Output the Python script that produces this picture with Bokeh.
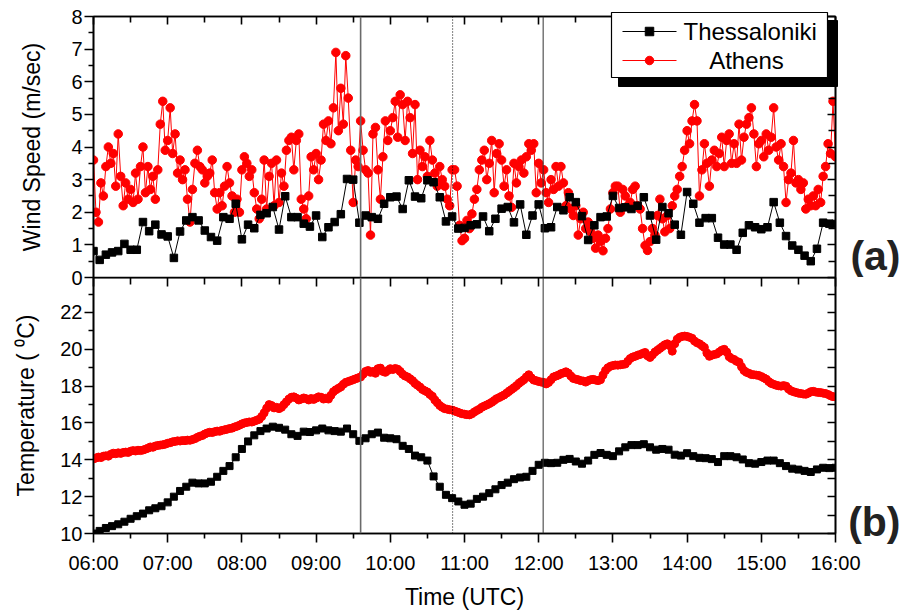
import numpy as np
from bokeh.plotting import figure
from bokeh.models import LinearAxis, FixedTicker, Span, Range1d
from bokeh.layouts import column, row
from bokeh.embed import file_html
from bokeh.resources import INLINE
from bokeh.core.properties import value

# ---------------- data ----------------
start_hour = 6.0
end_hour = 16.0
thess_step_min = 5      # Thessaloniki sampling interval (minutes)
athens_step_min = 2     # Athens sampling interval (minutes)

thess_wind = [
    0.81, 0.54, 0.70, 0.77, 0.81, 1.03, 0.85, 0.85, 1.70, 1.42, 1.62, 1.32,
    1.26, 0.60, 1.41, 1.75, 1.85, 1.75, 1.44, 1.24, 1.13, 1.85, 1.80, 2.26,
    1.17, 1.62, 1.51, 1.92, 1.97, 2.16, 1.47, 2.49, 1.85, 1.85, 1.65, 1.56,
    1.90, 1.24, 1.54, 1.70, 1.94, 3.02, 3.00, 1.68, 1.90, 1.85, 1.80, 2.26,
    2.46, 2.48, 2.10, 2.98, 2.48, 2.43, 2.98, 2.92, 2.46, 1.72, 1.87, 1.50,
    1.52, 1.60, 1.63, 1.87, 1.42, 1.80, 2.11, 2.16, 1.69, 2.24, 1.31, 1.90,
    2.24, 1.51, 1.54, 2.16, 2.06, 2.46, 2.31, 1.88, 1.15, 1.60, 1.85, 1.87,
    2.50, 2.13, 2.15, 2.10, 2.20, 2.46, 1.90, 1.16, 2.16, 1.97, 1.62, 1.31,
    2.62, 2.26, 1.68, 1.82, 1.82, 1.22, 1.01, 1.01, 0.85, 1.37, 1.60, 1.54,
    1.48, 1.54, 2.31, 1.68, 1.27, 0.98, 0.85, 0.67, 0.50, 0.88, 1.68, 1.65,
    1.64,
]

athens_wind = [
    3.6, 2.0, 1.7, 2.9, 2.5, 3.4, 4.0, 3.5, 3.8, 2.8, 4.4, 3.1, 2.2, 2.9, 2.4,
    2.7, 2.3, 3.2, 2.4, 3.4, 4.0, 2.6, 3.4, 2.7, 3.1, 2.4, 3.3, 4.7, 5.4, 3.9,
    4.2, 5.2, 3.8, 4.4, 3.2, 3.6, 3.0, 3.3, 2.4, 1.7, 2.7, 3.5, 3.9, 3.4, 3.3,
    2.9, 3.1, 3.2, 3.6, 2.6, 2.1, 2.6, 2.2, 2.8, 3.4, 2.9, 2.5, 2.0, 2.4, 2.0,
    3.3, 3.7, 3.5, 3.1, 3.3, 2.6, 2.1, 1.8, 2.4, 3.6, 2.1, 3.1, 3.5, 2.2, 3.6,
    2.3, 3.2, 2.8, 3.9, 4.2, 4.3, 3.3, 4.2, 4.4, 2.4, 2.1, 1.8, 2.5, 3.7, 3.3,
    3.8, 3.0, 3.6, 4.7, 4.2, 4.8, 4.1, 5.2, 6.9, 4.5, 5.8, 4.7, 6.8, 5.5, 3.9,
    2.3, 3.6, 3.4, 4.8, 3.9, 3.3, 3.2, 1.3, 4.4, 4.6, 3.3, 2.4, 3.7, 4.8, 4.2,
    4.5, 4.9, 5.4, 4.3, 5.6, 5.3, 4.2, 5.4, 4.9, 3.8, 5.3, 3.0, 3.9, 3.4, 3.7,
    3.1, 4.2, 3.6, 3.2, 2.8, 3.4, 3.0, 2.8, 2.4, 2.2, 3.3, 3.3, 2.8, 1.6, 1.13,
    1.2, 1.75, 1.5, 1.95, 2.4, 2.7, 3.3, 3.6, 3.9, 3.0, 3.5, 4.2, 2.6, 3.8, 4.1,
    3.6, 2.8, 3.3, 2.5, 2.15, 3.5, 2.9, 3.4, 3.6, 3.2, 3.7, 4.1, 3.9, 4.1, 2.6,
    3.5, 2.9, 3.3, 2.6, 2.3, 3.0, 2.7, 3.4, 2.8, 3.4, 2.9, 2.2, 2.6, 2.1, 1.9,
    2.2, 1.3, 1.8, 2.0, 1.5, 1.7, 1.4, 1.2, 0.9, 1.3, 1.1, 0.82, 1.2, 1.5, 2.1,
    2.6, 2.8, 2.8, 2.0, 2.7, 2.5, 2.2, 2.3, 2.7, 2.8, 2.2, 2.1, 1.5, 0.98, 0.83,
    1.1, 1.5, 1.3, 1.9, 2.4, 1.8, 1.4, 1.9, 1.5, 2.2, 2.5, 2.7, 3.1, 3.4, 3.9,
    4.5, 4.1, 4.8, 5.3, 4.8, 2.5, 3.3, 4.1, 3.5, 2.8, 3.6, 3.9, 3.4, 3.8, 4.3,
    3.4, 4.2, 4.4, 3.5, 4.1, 3.5, 4.7, 3.6, 4.3, 4.7, 4.9, 5.2, 4.4, 3.4, 4.1,
    4.2, 3.7, 4.4, 3.9, 4.3, 5.2, 4.0, 3.6, 4.1, 3.4, 2.3, 3.0, 3.2, 4.2, 2.9,
    3.0, 2.7, 2.9, 2.1, 2.4, 2.2, 2.5, 2.2, 2.7, 2.3, 3.1, 3.4, 4.1, 3.8, 5.4,
    3.7,
]

thess_temp = [
    10.00, 10.14, 10.30, 10.40, 10.50, 10.64, 10.80, 10.94, 11.08, 11.26, 11.37, 11.48,
    11.69, 12.00, 12.31, 12.54, 12.76, 12.72, 12.72, 12.81, 13.08, 13.40, 13.66, 14.14,
    14.59, 15.00, 15.33, 15.56, 15.70, 15.80, 15.74, 15.64, 15.39, 15.30, 15.53, 15.51,
    15.60, 15.70, 15.60, 15.56, 15.53, 15.70, 15.39, 15.03, 15.17, 15.39, 15.48, 15.20,
    15.17, 15.12, 14.76, 14.59, 14.23, 14.14, 13.96, 13.10, 12.54, 12.10, 11.92, 11.74,
    11.56, 11.62, 11.88, 12.00, 12.19, 12.40, 12.63, 12.76, 12.95, 13.04, 13.08, 13.40,
    13.73, 13.84, 13.82, 13.84, 14.00, 14.05, 13.91, 13.79, 13.96, 14.27, 14.37, 14.27,
    14.20, 14.46, 14.68, 14.80, 14.80, 14.85, 14.68, 14.55, 14.59, 14.55, 14.28, 14.23,
    14.36, 14.20, 14.11, 14.09, 14.04, 13.88, 14.20, 14.20, 14.14, 14.02, 13.82, 13.79,
    13.88, 13.96, 13.96, 13.82, 13.66, 13.52, 13.47, 13.40, 13.34, 13.48, 13.57, 13.55,
    13.57,
]

athens_temp = [
    14.05, 14.10, 14.15, 14.12, 14.20, 14.22, 14.20, 14.30, 14.36, 14.33, 14.38, 14.35, 14.40, 14.42, 14.40,
    14.47, 14.50, 14.48, 14.52, 14.50, 14.53, 14.58, 14.63, 14.70, 14.68, 14.75, 14.78, 14.80, 14.82, 14.85,
    14.90, 14.93, 14.98, 15.00, 15.03, 15.02, 15.05, 15.04, 15.07, 15.06, 15.10, 15.15, 15.22, 15.28, 15.32,
    15.40, 15.46, 15.50, 15.48, 15.53, 15.56, 15.55, 15.60, 15.63, 15.66, 15.70, 15.72, 15.78, 15.82, 15.88,
    15.95, 16.00, 16.03, 16.06, 16.05, 16.10, 16.15, 16.20, 16.35, 16.55, 16.80, 17.00, 16.95, 16.82, 16.85,
    16.78, 16.85, 17.00, 17.15, 17.30, 17.40, 17.42, 17.35, 17.25, 17.30, 17.36, 17.32, 17.25, 17.33, 17.28,
    17.35, 17.42, 17.40, 17.30, 17.35, 17.30, 17.50, 17.70, 17.80, 17.88, 17.96, 18.10, 18.20, 18.25, 18.30,
    18.35, 18.40, 18.45, 18.50, 18.65, 18.80, 18.85, 18.75, 18.80, 18.70, 18.95, 18.98, 18.80, 18.75, 18.85,
    18.95, 18.90, 18.96, 18.92, 18.80, 18.65, 18.55, 18.50, 18.40, 18.30, 18.15, 18.05, 17.95, 17.82, 17.75,
    17.68, 17.55, 17.45, 17.25, 17.10, 16.95, 16.85, 16.78, 16.75, 16.72, 16.70, 16.65, 16.60, 16.55, 16.50,
    16.48, 16.45, 16.44, 16.50, 16.60, 16.68, 16.75, 16.85, 16.92, 16.98, 17.05, 17.12, 17.22, 17.32, 17.38,
    17.45, 17.52, 17.62, 17.72, 17.82, 17.92, 18.02, 18.15, 18.25, 18.35, 18.50, 18.62, 18.45, 18.33, 18.30,
    18.25, 18.22, 18.20, 18.12, 18.20, 18.35, 18.50, 18.55, 18.60, 18.68, 18.72, 18.78, 18.70, 18.55, 18.42,
    18.38, 18.35, 18.30, 18.28, 18.22, 18.30, 18.35, 18.37, 18.33, 18.30, 18.35, 18.60, 18.85, 19.00, 19.08,
    19.12, 19.15, 19.14, 19.16, 19.18, 19.20, 19.35, 19.50, 19.58, 19.62, 19.68, 19.72, 19.78, 19.83, 19.65,
    19.56, 19.70, 19.85, 19.95, 20.05, 20.15, 20.25, 20.30, 20.20, 19.90, 20.30, 20.55, 20.65, 20.70, 20.72,
    20.70, 20.65, 20.60, 20.45, 20.36, 20.30, 20.20, 20.10, 19.80, 19.62, 19.68, 19.72, 19.75, 19.85, 19.95,
    20.00, 19.85, 19.60, 19.50, 19.45, 19.35, 19.30, 19.05, 18.85, 18.75, 18.70, 18.63, 18.62, 18.60, 18.58,
    18.52, 18.45, 18.38, 18.25, 18.15, 18.10, 18.05, 18.02, 18.00, 18.03, 18.00, 17.85, 17.75, 17.70, 17.66,
    17.62, 17.60, 17.57, 17.56, 17.62, 17.70, 17.72, 17.68, 17.66, 17.65, 17.62, 17.60, 17.55, 17.48, 17.43,
    17.42,
]

series_names = ["Thessaloniki", "Athens"]
panel_tags = ["(a)", "(b)"]
hour_ticks = list(range(6, 17))
hour_labels = [f"{h:02d}:00" for h in hour_ticks]
half_hour_ticks = [h + 0.5 for h in range(6, 16)]
wind_ticks = list(range(0, 9))
wind_minor = [w + 0.5 for w in range(0, 8)]
temp_ticks = list(range(10, 23, 2))
temp_minor = list(range(11, 24, 2))
event_lines = [9.60, 10.84, 12.06]   # hours (UTC) of the marked events

t_thess = start_hour + np.arange(len(thess_wind)) * thess_step_min / 60.0
t_athens = start_hour + np.arange(len(athens_wind)) * athens_step_min / 60.0

# ---------------- styling ----------------
FONT = "Liberation Sans"
PAGE_W, PAGE_H = 904, 612
LEFT = 93
FRAME_W = 742
FRAME_H = 261
RIGHT = PAGE_W - LEFT - FRAME_W
OVERLAP = 14
TOP_H = 16 + FRAME_H + OVERLAP
SPLIT_Y = 16 + FRAME_H
BOT_H = PAGE_H - SPLIT_Y
OV_X0 = 600                       # left page edge of the overlay canvases
OV_W = PAGE_W - OV_X0
WIND_RANGE = (0, 8)
TEMP_RANGE = (10, 23.9)
RED = "#ff0000"


def style_axis(ax, major_in, major_out, minor_in, minor_out, labels=True):
    ax.axis_line_color = "black"
    ax.axis_line_width = 1.6
    ax.major_tick_line_color = "black"
    ax.major_tick_line_width = 1.6
    ax.minor_tick_line_color = "black"
    ax.minor_tick_line_width = 1.6
    ax.major_tick_in = major_in
    ax.major_tick_out = major_out
    ax.minor_tick_in = minor_in
    ax.minor_tick_out = minor_out
    ax.major_label_text_font = FONT
    ax.major_label_text_color = "black"
    ax.axis_label_text_font = FONT
    ax.axis_label_text_font_style = "normal"
    ax.axis_label_text_color = "black"
    ax.axis_label_text_font_size = "23px"
    if labels:
        ax.major_label_text_font_size = "20px"
    else:
        ax.major_label_text_font_size = "0px"
        ax.major_label_standoff = 0


def base_fig(height, yr, mb_top, mb_bottom, x_axis):
    p = figure(width=PAGE_W, height=height, x_range=Range1d(start_hour, end_hour),
               y_range=Range1d(*yr), output_backend="svg", toolbar_location=None,
               x_axis_location=x_axis, min_border_top=mb_top, min_border_bottom=mb_bottom,
               min_border_left=LEFT, min_border_right=RIGHT)
    p.grid.visible = False
    p.outline_line_color = "black"
    p.outline_line_width = 1.6
    return p


# ---------------- top panel: wind speed ----------------
top = base_fig(TOP_H, WIND_RANGE, 16, OVERLAP, None)
yl = top.yaxis[0]
yl.ticker = FixedTicker(ticks=wind_ticks, minor_ticks=wind_minor)
style_axis(yl, 0, 9, 0, 5)
yl.major_label_standoff = 2
yl.axis_label = "Wind Speed (m/sec)"
yl.axis_label_standoff = 23

ax_above = LinearAxis(ticker=FixedTicker(ticks=hour_ticks, minor_ticks=half_hour_ticks))
style_axis(ax_above, 8, 0, 6, 0, labels=False)
ax_above.major_label_overrides = {h: "" for h in hour_ticks}
top.add_layout(ax_above, "above")

ax_right = LinearAxis(ticker=FixedTicker(ticks=wind_ticks, minor_ticks=wind_minor))
style_axis(ax_right, 8, 0, 7, 0, labels=False)
ax_right.major_label_overrides = {w: "" for w in wind_ticks}
top.add_layout(ax_right, "right")

top.line(t_athens, athens_wind, line_color=RED, line_width=1)
top.scatter(t_athens, athens_wind, marker="circle", size=8.5, fill_color=RED, line_color=RED)
top.line(t_thess, thess_wind, line_color="black", line_width=1)
top.scatter(t_thess, thess_wind, marker="square", size=7.5, fill_color="black", line_color="black")

# ---------------- bottom panel: temperature ----------------
bot = base_fig(BOT_H, TEMP_RANGE, 0, BOT_H - FRAME_H, "below")
bot.x_range = top.x_range
bot.margin = (-OVERLAP, 0, 0, 0)      # overlap the top panel's lower border strip
bot.border_fill_alpha = 0
bot.background_fill_alpha = 0
xb = bot.xaxis[0]
xb.ticker = FixedTicker(ticks=hour_ticks, minor_ticks=half_hour_ticks)
xb.major_label_overrides = dict(zip(hour_ticks, hour_labels))
style_axis(xb, 0, 9, 0, 5)
xb.major_label_standoff = 9
xb.axis_label = "Time (UTC)"
xb.axis_label_standoff = 7

yb = bot.yaxis[0]
yb.ticker = FixedTicker(ticks=temp_ticks, minor_ticks=temp_minor)
style_axis(yb, 0, 9, 0, 5)
yb.major_label_standoff = 2
yb.axis_label = "Temperature ( \u2070C)"
yb.axis_label_standoff = 18

bx_above = LinearAxis(ticker=FixedTicker(ticks=hour_ticks, minor_ticks=half_hour_ticks))
style_axis(bx_above, 9, 0, 7, 0, labels=False)
bx_above.major_label_overrides = {h: "" for h in hour_ticks}
bot.add_layout(bx_above, "above")

bx_right = LinearAxis(ticker=FixedTicker(ticks=temp_ticks, minor_ticks=temp_minor))
style_axis(bx_right, 8, 0, 8, 0, labels=False)
bx_right.major_label_overrides = {t: "" for t in temp_ticks}
bot.add_layout(bx_right, "right")

bot.line(t_athens, athens_temp, line_color=RED, line_width=1)
bot.scatter(t_athens, athens_temp, marker="circle", size=8, fill_color=RED, line_color=RED)
bot.line(t_thess, thess_temp, line_color="black", line_width=1)
bot.scatter(t_thess, thess_temp, marker="square", size=7, fill_color="black", line_color="black")

# ---------------- event markers ----------------
line_styles = [("#6a6a6a", 1.6, "solid"), ("black", 1, "1 2"), ("#333333", 1, "solid")]
for p in (top, bot):
    for loc, (c, w, d) in zip(event_lines, line_styles):
        p.add_layout(Span(location=loc, dimension="height", line_color=c,
                          line_width=w, line_dash=d))


# ---------------- transparent overlay canvases (page-px coordinates) ----------------
def overlay_fig(height, y_top):
    o = figure(width=OV_W, height=height, x_range=Range1d(OV_X0, PAGE_W),
               y_range=Range1d(y_top + height, y_top), output_backend="svg",
               toolbar_location=None, x_axis_location=None, y_axis_location=None,
               min_border=0)
    o.grid.visible = False
    o.outline_line_color = None
    o.border_fill_alpha = 0
    o.background_fill_alpha = 0
    return o


ov_top = overlay_fig(SPLIT_Y, 0)
ov_bot = overlay_fig(BOT_H, SPLIT_Y)

# legend: shadow, box, sample lines/markers, names
ov_top.quad(left=[618], right=[837], top=[20], bottom=[86], fill_color="black", line_color="black")
ov_top.quad(left=[611], right=[827], top=[12], bottom=[77], fill_color="white",
            line_color="black", line_width=1.2)
row_y = [31, 60]
legend_colors = ["black", RED]
legend_markers = ["square", "circle"]
legend_text_x = [683, 746]
legend_text_align = ["left", "center"]
for ry, c, m, tx, ta, name in zip(row_y, legend_colors, legend_markers,
                                  legend_text_x, legend_text_align, series_names):
    ov_top.line([622, 676], [ry, ry], line_color=c, line_width=1)
    ov_top.scatter([649], [ry], marker=m, size=8.5, fill_color=c, line_color=c)
    ov_top.text(x=[tx], y=[ry], text=[name], text_font=value(FONT),
                text_font_size=value("24px"), text_color="black",
                text_align=ta, text_baseline="middle")

# panel tags
ov_top.text(x=[PAGE_W - 4], y=[255], text=[panel_tags[0]], text_font=value(FONT),
            text_font_size=value("41px"), text_font_style="bold", text_color="#222222",
            text_align="right", text_baseline="middle")
ov_bot.text(x=[PAGE_W - 4], y=[521], text=[panel_tags[1]], text_font=value(FONT),
            text_font_size=value("41px"), text_font_style="bold", text_color="#222222",
            text_align="right", text_baseline="middle")

overlays = column(ov_top, ov_bot, spacing=0)
overlays.margin = (0, 0, 0, -OV_W)

layout = row(column(top, bot, spacing=0), overlays, spacing=0)
open("out.html", "w").write(file_html(layout, INLINE))
